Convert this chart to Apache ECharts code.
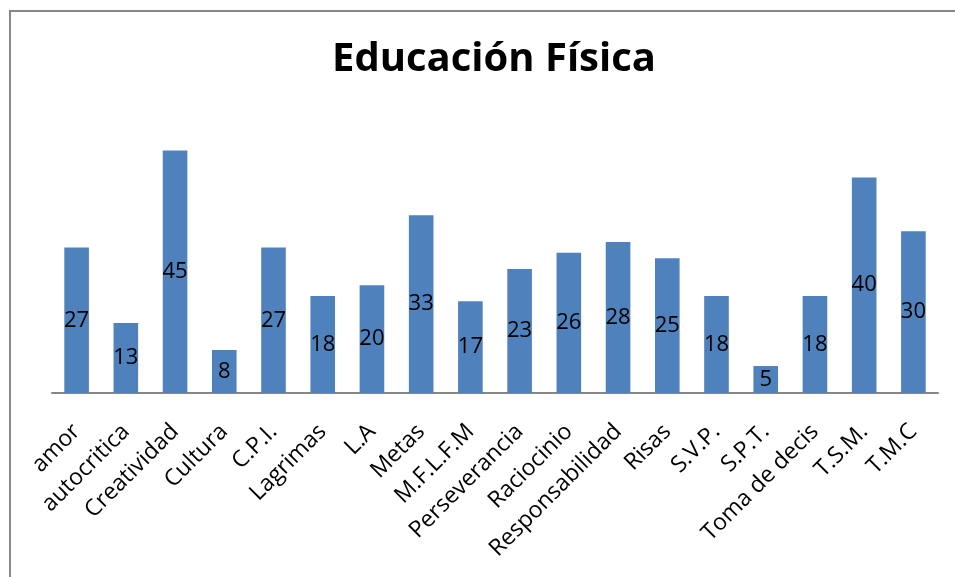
<!DOCTYPE html>
<html lang="es">
<head>
    <meta charset="utf-8" />
    <title>Educación Física</title>
    <script type="text/javascript" src="https://cdn.jsdelivr.net/npm/echarts@6/dist/echarts.min.js"></script>
    <style type="text/css">
        html, body { margin: 0; padding: 0; background: #fff; }
    </style>
</head>
<body>
    <div id="main" style="width:955px;height:577px;"></div>
    <script type="text/javascript">
        var categorias = ['amor', 'autocritica', 'Creatividad', 'Cultura', 'C.P.I.', 'Lagrimas', 'L.A', 'Metas',
            'M.F.L.F.M', 'Perseverancia', 'Raciocinio', 'Responsabilidad', 'Risas', 'S.V.P.', 'S.P.T.',
            'Toma de decis', 'T.S.M.', 'T.M.C'];
        var valores = [27, 13, 45, 8, 27, 18, 20, 33, 17, 23, 26, 28, 25, 18, 5, 18, 40, 30];

        var myChart = echarts.init(document.getElementById('main'));

        var option = {
            animation: false,
            backgroundColor: '#ffffff',
            title: {
                text: 'Educación Física',
                left: 327,
                top: 35,
                textStyle: {
                    fontFamily: 'Open Sans',
                    fontWeight: 'bold',
                    fontSize: 40,
                    color: '#000'
                }
            },
            graphic: [{
                type: 'polyline',
                shape: { points: [[10, 577], [10, 11], [955, 11]] },
                style: { stroke: '#878787', lineWidth: 2, fill: null }
            }],
            grid: {
                left: 52,
                right: 17,
                top: 123.5,
                bottom: 184
            },
            xAxis: {
                type: 'category',
                data: categorias,
                axisLine: { lineStyle: { color: '#868686', width: 2 } },
                axisTick: { show: false },
                axisLabel: {
                    interval: 0,
                    rotate: 45,
                    margin: 35,
                    fontFamily: 'Open Sans',
                    fontSize: 23,
                    color: '#000'
                }
            },
            yAxis: {
                type: 'value',
                min: 0,
                max: 50,
                show: false
            },
            series: [{
                type: 'bar',
                data: valores,
                barCategoryGap: '50%',
                itemStyle: { color: '#4F81BD' },
                label: {
                    show: true,
                    position: 'inside',
                    fontFamily: 'Open Sans',
                    fontSize: 22,
                    color: '#000'
                }
            }]
        };
        myChart.setOption(option);
    </script>
</body>
</html>
